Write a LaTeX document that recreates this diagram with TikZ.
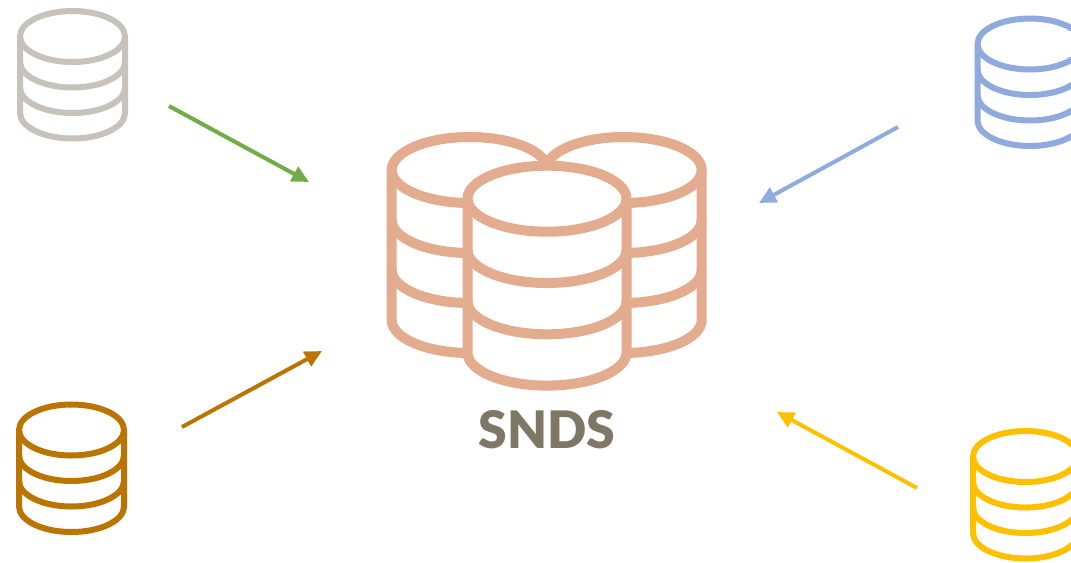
\documentclass[tikz,border=0pt]{standalone}
\usepackage{fontspec}
\setmainfont{Lato}
\newfontfamily\titre{Lato Black}
\usetikzlibrary{arrows.meta}
\definecolor{gris}{HTML}{C7C2BB}
\definecolor{vert}{HTML}{70AD47}
\definecolor{bleu}{HTML}{8FAADC}
\definecolor{brun}{HTML}{BC7400}
\definecolor{jaune}{HTML}{FFC000}
\definecolor{saumon}{HTML}{E3AC8F}
\definecolor{taupe}{HTML}{7F7766}
\tikzstyle{fleche} = [-{Triangle[length=0.17cm,width=0.16cm]},line width=0.04cm]
\tikzstyle{petite} = [line width=0.06cm]
\tikzstyle{grande} = [saumon,line width=0.10cm]
% #1 style, #2 x, #3 y (centre of the top disc), #4 rx, #5 ry, #6 step
\newcommand{\pile}[6]{
	\draw[#1,fill=white] ({#2-#4},#3) -- ++(0,{-3*#6}) arc[start angle=180,end angle=360,x radius=#4,y radius=#5]
		-- ++(0,{3*#6}) arc[start angle=0,end angle=180,x radius=#4,y radius=#5] -- cycle;
	\foreach \k in {0,1,2}
		\draw[#1] ({#2-#4},{#3-\k*#6}) arc[start angle=180,end angle=360,x radius=#4,y radius=#5];
}

\begin{document}
\begin{tikzpicture}
	\useasboundingbox (0,0) rectangle (10.71,5.62);

%% Petites bases
	\pile{petite,gris}{0.725}{5.255}{0.525}{0.255}{0.255}
	\pile{petite,bleu}{10.30}{5.18}{0.525}{0.255}{0.255}
	\pile{petite,brun}{0.715}{1.32}{0.525}{0.255}{0.255}
	\pile{petite,jaune}{10.255}{1.055}{0.525}{0.255}{0.255}

%% Base centrale
	\pile{grande}{4.697}{3.92}{0.78}{0.33}{0.50}
	\pile{grande}{6.237}{3.92}{0.78}{0.33}{0.50}
	\pile{grande}{5.47}{3.633}{0.795}{0.33}{0.513}
	\node[taupe,font=\titre\fontsize{14.7pt}{16pt}\selectfont] (snds) at (5.47,1.32) {SNDS};

%% Fleches
	\coordinate (gris_a) at (1.69,4.56);
	\coordinate (gris_b) at (3.09,3.80);
	\draw[fleche,vert] (gris_a) -- (gris_b);

	\coordinate (bleu_a) at (8.98,4.35);
	\coordinate (bleu_b) at (7.59,3.59);
	\draw[fleche,bleu] (bleu_a) -- (bleu_b);

	\coordinate (brun_a) at (1.82,1.35);
	\coordinate (brun_b) at (3.22,2.11);
	\draw[fleche,brun] (brun_a) -- (brun_b);

	\coordinate (jaune_a) at (9.17,0.74);
	\coordinate (jaune_b) at (7.77,1.50);
	\draw[fleche,jaune] (jaune_a) -- (jaune_b);

\end{tikzpicture}
\end{document}
